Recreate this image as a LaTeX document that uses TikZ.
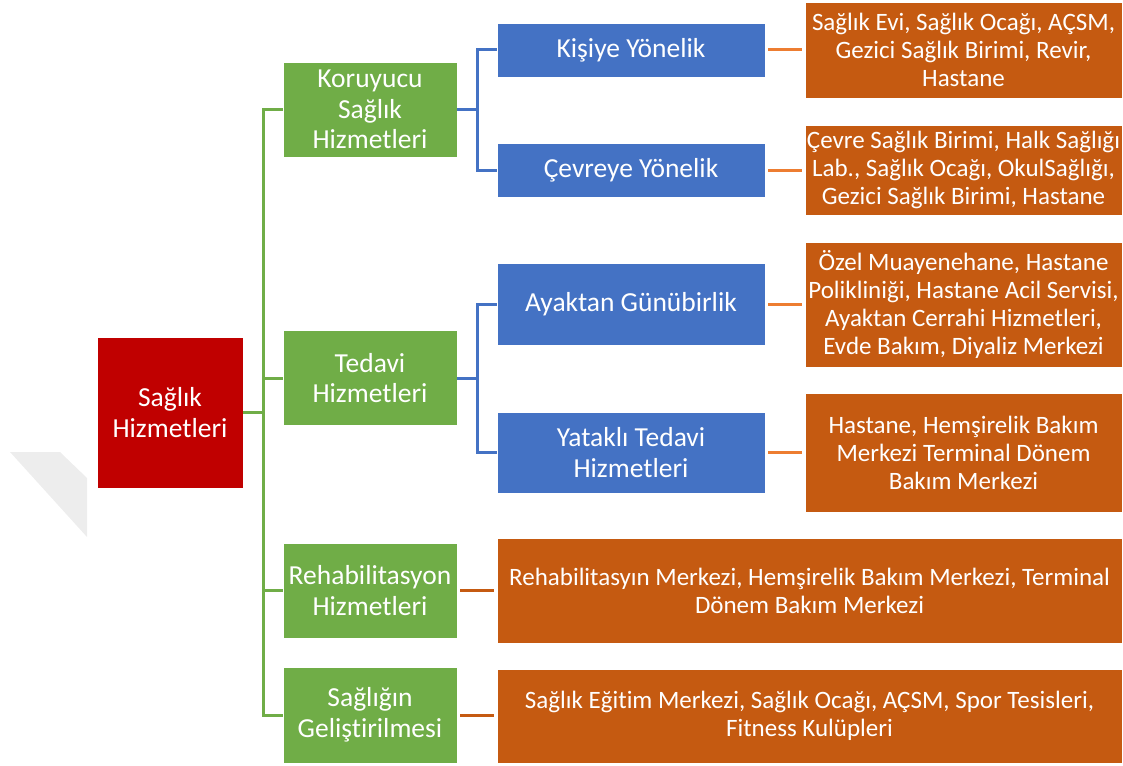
\documentclass[tikz,border=0pt]{standalone}
\usepackage{fontspec}
\setmainfont{Carlito}[Ligatures={NoCommon}]
\definecolor{cred}{HTML}{C00000}
\definecolor{cgreen}{HTML}{70AD47}
\definecolor{cblue}{HTML}{4472C4}
\definecolor{corange}{HTML}{C55A11}
\definecolor{clorange}{HTML}{ED7D31}
\definecolor{cwm}{HTML}{EDEDED}
\begin{document}
\begin{tikzpicture}[x=1pt,y=-1pt,
  box/.style={draw=white, line width=0.6pt, text=white, align=center, inner sep=0pt,
    font=\fontsize{27.5}{30.5}\selectfont},
  rootbox/.style={box, fill=cred, minimum width=146pt, minimum height=151pt},
  gbox/.style={box, fill=cgreen, minimum width=174pt, minimum height=95pt},
  bbox/.style={box, fill=cblue, minimum width=268pt},
  obox/.style={box, fill=corange, minimum width=317pt, font=\fontsize{25}{28}\selectfont},
  wbox/.style={box, fill=corange, minimum width=625pt, font=\fontsize{25}{28}\selectfont},
  gline/.style={draw=cgreen, line width=3pt},
  bline/.style={draw=cblue, line width=3pt},
  oline/.style={draw=clorange, line width=3pt},
  doline/.style={draw=corange, line width=3pt}]
\useasboundingbox (0,0) rectangle (1123,765);
\fill[cwm] (10,452) -- (60,452) -- (87,478) -- (87,537) -- cycle;

\node[rootbox] (root) at (170,412.5) {Sağlık\\Hizmetleri};

\node[gbox] (kor) at (370,109.5) {Koruyucu\\Sağlık\\Hizmetleri};
\node[gbox] (ted) at (370,378) {Tedavi\\Hizmetleri};
\node[gbox] (reh) at (370,590.5) {Rehabilitasyon\\Hizmetleri};
\node[gbox, minimum height=96pt] (gel) at (370,715) {Sağlığın\\Geliştirilmesi};

\node[bbox, minimum height=54pt] (kis) at (631,50) {Kişiye Yönelik};
\node[bbox, minimum height=54pt] (cev) at (631,170) {Çevreye Yönelik};
\node[bbox, minimum height=82pt] (aya) at (631,304) {Ayaktan Günübirlik};
\node[bbox, minimum height=81pt] (yat) at (631,452.5) {Yataklı Tedavi\\Hizmetleri};

\node[obox, minimum height=96pt] (o1) at (963.5,50) {Sağlık Evi, Sağlık Ocağı, AÇSM,\\Gezici Sağlık Birimi, Revir,\\Hastane};
\node[obox, minimum height=90pt] (o2) at (963.5,170) {Çevre Sağlık Birimi, Halk Sağlığı\\Lab., Sağlık Ocağı, OkulSağlığı,\\Gezici Sağlık Birimi, Hastane};
\node[obox, minimum height=125pt] (o3) at (963.5,304.5) {Özel Muayenehane, Hastane\\Polikliniği, Hastane Acil Servisi,\\Ayaktan Cerrahi Hizmetleri,\\Evde Bakım, Diyaliz Merkezi};
\node[obox, minimum height=119pt] (o4) at (963.5,452.5) {Hastane, Hemşirelik Bakım\\Merkezi Terminal Dönem\\Bakım Merkezi};
\node[wbox, minimum height=105pt] (o5) at (809.5,590.5) {Rehabilitasyın Merkezi, Hemşirelik Bakım Merkezi, Terminal\\Dönem Bakım Merkezi};
\node[wbox, minimum height=94pt] (o6) at (809.5,716) {Sağlık Eğitim Merkezi, Sağlık Ocağı, AÇSM, Spor Tesisleri,\\Fitness Kulüpleri};

% green trunk
\coordinate (gt) at (263,0);
\draw[gline] (root.east) -- (root.east -| gt);
\draw[gline] (kor.west) -- (kor.west -| gt) -- (gel.west -| gt) -- (gel.west);
\draw[gline] (ted.west) -- (ted.west -| gt);
\draw[gline] (reh.west) -- (reh.west -| gt);

% blue branches
\coordinate (bt) at (477,0);
\draw[bline] (kor.east) -- (kor.east -| bt);
\draw[bline] (kis.west) -- (kis.west -| bt) -- (cev.west -| bt) -- (cev.west);
\draw[bline] (ted.east) -- (ted.east -| bt);
\draw[bline] (aya.west) -- (aya.west -| bt) -- (yat.west -| bt) -- (yat.west);

% orange connectors
\draw[oline] ([xshift=3pt]kis.east) -- ([xshift=-3pt]o1.west);
\draw[oline] ([xshift=3pt]cev.east) -- ([xshift=-3pt]o2.west |- cev.east);
\draw[oline] ([xshift=3pt]aya.east) -- ([xshift=-3pt]o3.west |- aya.east);
\draw[oline] ([xshift=3pt]yat.east) -- ([xshift=-3pt]o4.west |- yat.east);
\draw[doline] ([xshift=3pt]reh.east) -- ([xshift=-3pt]o5.west |- reh.east);
\draw[doline] ([xshift=3pt]gel.east) -- ([xshift=-3pt]o6.west |- gel.east);
\end{tikzpicture}
\end{document}
